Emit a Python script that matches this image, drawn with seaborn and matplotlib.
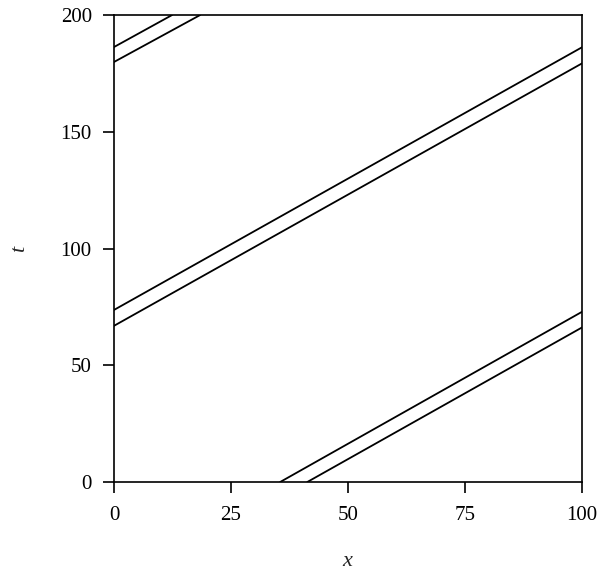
import pandas as pd
import matplotlib
matplotlib.use('Agg')
import matplotlib.pyplot as plt
import seaborn as sns

# segment endpoints (two parallel fronts, wrapping in x)
seg_id = [0, 0, 1, 1, 2, 2, 3, 3, 4, 4, 5, 5]
x_vals = [35.5, 100, 0, 100, 0, 12.4, 41.3, 100, 0, 100, 0, 18.4]
t_vals = [0, 72.9, 73.7, 186.2, 186.3, 200, 0, 66.2, 66.9, 179.3, 179.9, 200]

x_ticks = [0, 25, 50, 75, 100]
t_ticks = [0, 50, 100, 150, 200]

df = pd.DataFrame({'seg': seg_id, 'x': x_vals, 't': t_vals})

sns.set_theme(style='ticks')
plt.rcParams['font.family'] = ['Liberation Serif', 'DejaVu Serif']
plt.rcParams['mathtext.fontset'] = 'custom'
plt.rcParams['mathtext.it'] = 'Liberation Serif:italic'

fig = plt.figure(figsize=(6, 5.79), dpi=100)
ax = fig.add_axes([0.19, 0.1675, 0.78, 0.8065])

sns.lineplot(data=df, x='x', y='t', units='seg', estimator=None, sort=False,
             color='black', linewidth=1.3, ax=ax)

ax.set_xlim(0, 100)
ax.set_ylim(0, 200)
ax.set_xticks(x_ticks)
ax.set_yticks(t_ticks)
ax.tick_params(direction='out', length=8, width=1.2, labelsize=15,
               colors='black')
ax.tick_params(axis='x', pad=9)
ax.tick_params(axis='y', pad=8)
for s in ax.spines.values():
    s.set_linewidth(1.2)
    s.set_color('black')

ax.set_xlabel('$x$', fontsize=16, labelpad=20)
ax.set_ylabel('$t$', fontsize=16, labelpad=22, rotation=90)

fig.savefig('out.png', dpi=100)
